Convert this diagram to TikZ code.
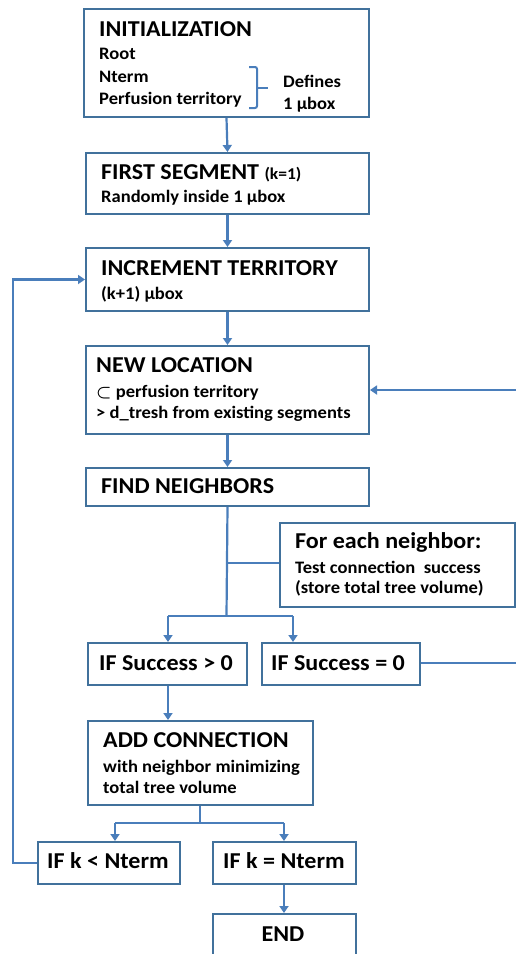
\documentclass[tikz,border=0pt]{standalone}
\usepackage{fontspec}
\setmainfont[FakeStretch=1.06]{Carlito}
\usetikzlibrary{arrows.meta}
\definecolor{boxc}{HTML}{41719C}
\definecolor{linec}{HTML}{4A7EBB}
\tikzset{
  box/.style={draw=boxc, line width=2pt, rectangle, inner sep=0pt, anchor=north west},
  conn/.style={draw=linec, line width=2.2pt},
  arr/.style={conn, -{Triangle[width=9pt,length=7pt]}},
  ttl/.style={anchor=base west, inner sep=0pt, font=\fontsize{22.7}{24}\selectfont\bfseries},
  sub/.style={anchor=base west, inner sep=0pt, font=\fontsize{17.5}{19}\selectfont\bfseries},
}
\begin{document}
\begin{tikzpicture}[x=1pt,y=-1pt]
\useasboundingbox (0,0) rectangle (515,954);
% boxes
\node[box, minimum width=285pt, minimum height=108pt] (init) at (83,8) {};
\node[box, minimum width=283pt, minimum height=61pt] (first) at (85,152) {};
\node[box, minimum width=283pt, minimum height=63pt] (incr) at (85,247) {};
\node[box, minimum width=283pt, minimum height=88pt] (newloc) at (85,345) {};
\node[box, minimum width=283pt, minimum height=38pt] (find) at (85,467) {};
\node[box, minimum width=235pt, minimum height=84pt] (foreach) at (279,522) {};
\node[box, minimum width=159pt, minimum height=42pt] (succ1) at (87,642) {};
\node[box, minimum width=158pt, minimum height=42pt] (succ2) at (261,642) {};
\node[box, minimum width=225pt, minimum height=84pt] (add) at (87,720) {};
\node[box, minimum width=142pt, minimum height=42pt] (kless) at (37,841) {};
\node[box, minimum width=143pt, minimum height=42pt] (keq) at (212,841) {};
\node[box, minimum width=143pt, minimum height=60pt] (end) at (212,913) {};
% texts
\node[ttl] (t1) at (99,36) {INITIALIZATION};
\node[sub] (t1a) at (99,59) {Root};
\node[sub] (t1b) at (99,82) {Nterm};
\node[sub] (t1c) at (99,104) {Perfusion territory};
\node[sub] (t1d) at (283,87) {Defines};
\node[sub] (t1e) at (283,109) {1 µbox};
\node[ttl] (t2) at (101,179) {FIRST SEGMENT \fontsize{16.5}{18}\selectfont(k=1)};
\node[sub] (t2a) at (101,202) {Randomly inside 1 µbox};
\node[ttl] (t3) at (101,275) {INCREMENT TERRITORY};
\node[sub] (t3a) at (101,299) {(k+1) µbox};
\node[ttl] (t4) at (96,372) {NEW LOCATION};
\node[sub] (t4a) at (96,397) {{\boldmath$\subset$} perfusion territory};
\node[sub] (t4b) at (96,418) {> d\_tresh from existing segments};
\node[ttl] (t5) at (101,493) {FIND NEIGHBORS};
\node[ttl] (t6) at (295,548) {For each neighbor:};
\node[sub] (t6a) at (295,573) {Test connection\ \ success};
\node[sub] (t6b) at (295,593) {(store total tree volume)};
\node[ttl] (t7) at (99,670) {IF Success > 0};
\node[ttl] (t8) at (271,670) {IF Success = 0};
\node[ttl] (t9) at (103,747) {ADD CONNECTION};
\node[sub] (t9a) at (103,772) {with neighbor minimizing};
\node[sub] (t9b) at (103,793) {total tree volume};
\node[ttl] (t10) at (47,868) {IF k < Nterm};
\node[ttl] (t11) at (223,868) {IF k = Nterm};
\node[ttl, anchor=base] (t12) at (283,941) {END};
% brace
\draw[conn, line width=2pt, rounded corners=2pt] (249,67) -- (257,67) -- (257,108) -- (249,108);
\draw[conn, line width=2pt] (257,88) -- (268,88);
% connectors
\draw[arr] (init.south) -- (first.north);
\draw[arr] (first.south) -- (incr.north);
\draw[arr] (incr.south) -- (newloc.north);
\draw[arr] (newloc.south) -- (find.north);
\coordinate (j1) at (226.5,616);
\coordinate (j0) at (226.5,563);
\draw[conn] (find.south) -- (j1);
\draw[conn] (j0) -- (foreach.west |- j0);
\coordinate (s1) at (168,616);
\coordinate (s2) at (293,616);
\draw[conn] (s1) -- (s2);
\draw[arr] (s1) -- (s1 |- succ1.north);
\draw[arr] (s2) -- (s2 |- succ2.north);
\coordinate (r1) at (519,663);
\draw[arr] (succ2.east |- r1) -- (r1) -- (r1 |- newloc.east) -- (newloc.east);
\draw[arr] (s1 |- succ1.south) -- (s1 |- add.north);
\coordinate (a1) at (200,823);
\coordinate (a2) at (115,823);
\coordinate (a3) at (284,823);
\draw[conn] (a1 |- add.south) -- (a1);
\draw[conn] (a2) -- (a3);
\draw[arr] (a2) -- (a2 |- kless.north);
\draw[arr] (a3) -- (a3 |- keq.north);
\draw[arr] (a3 |- keq.south) -- (a3 |- end.north);
\coordinate (l1) at (13,863);
\draw[arr] (kless.west |- l1) -- (l1) -- (l1 |- incr.west) -- (incr.west);
\end{tikzpicture}
\end{document}
